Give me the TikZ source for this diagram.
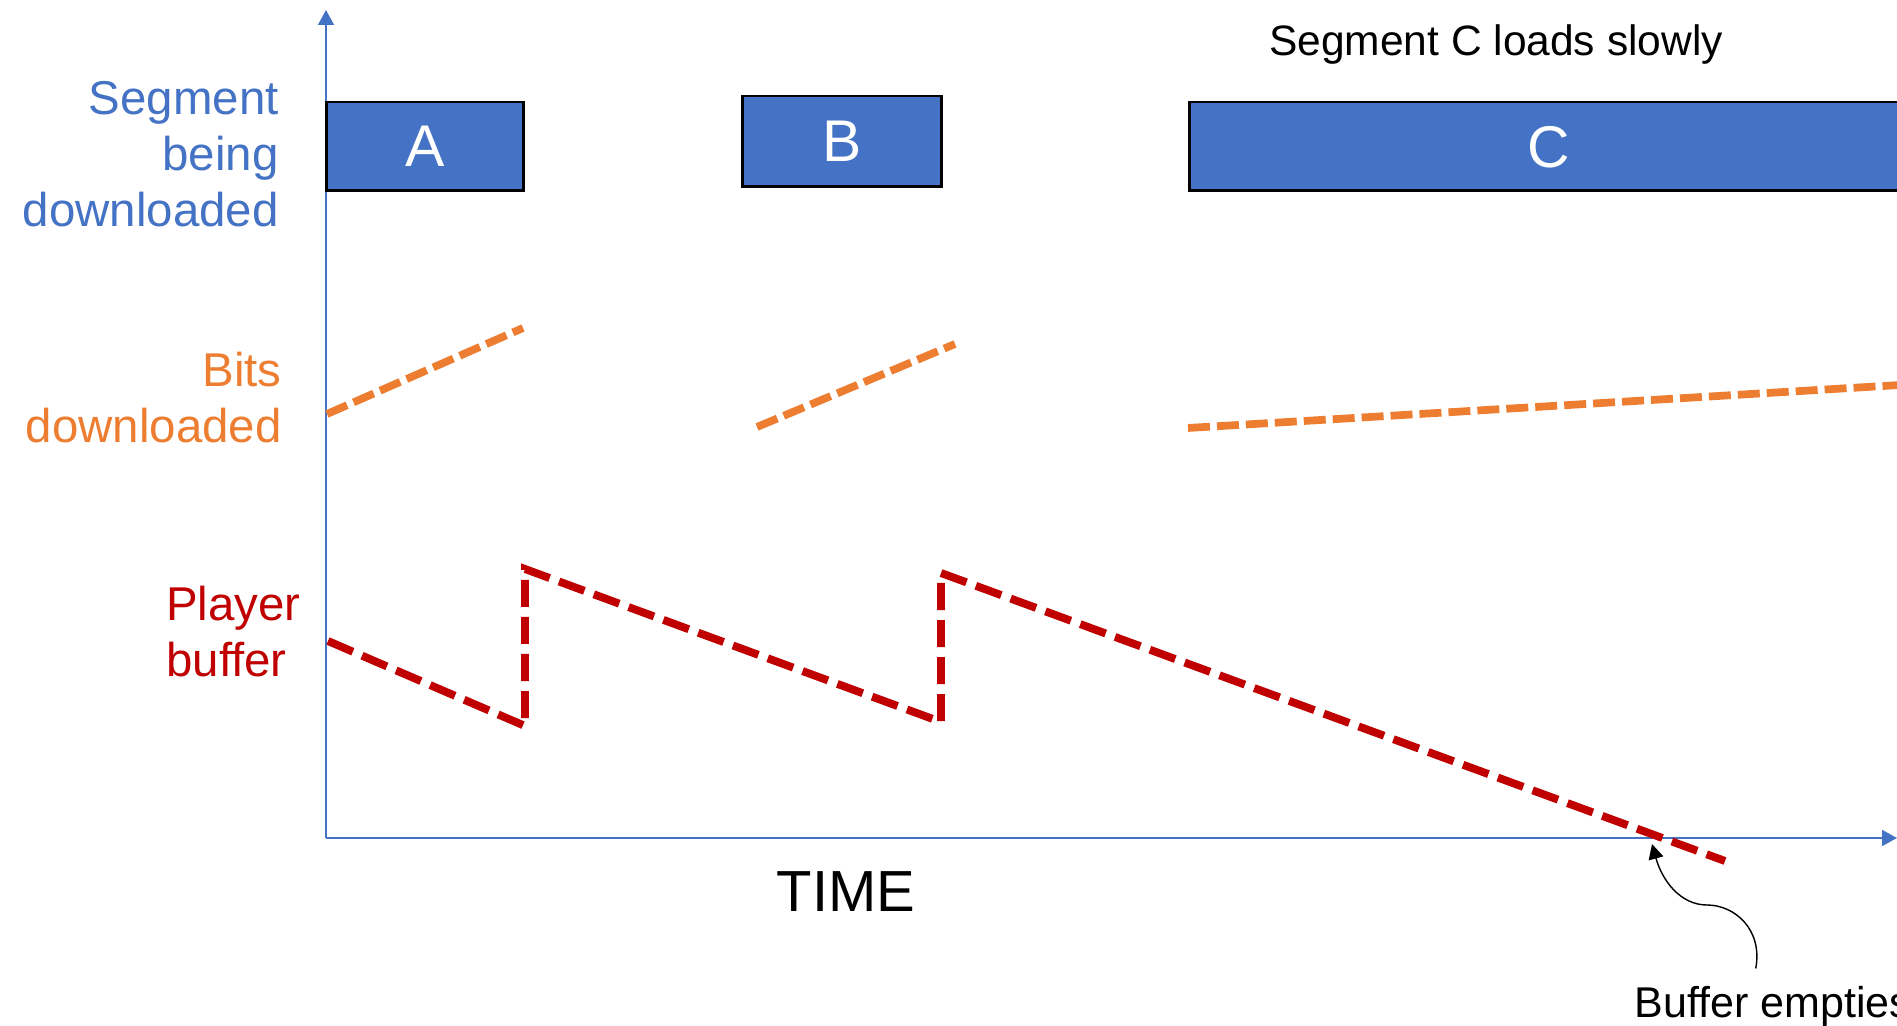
\documentclass[tikz,border=0pt]{standalone}
\usepackage{fontspec}
\setmainfont{Liberation Sans}
\usepackage{xcolor}
\usetikzlibrary{arrows.meta, positioning}

\definecolor{segblue}{HTML}{4472C4}
\definecolor{bitsorange}{HTML}{ED7D31}
\definecolor{bufred}{HTML}{C00000}

\begin{document}
\begin{tikzpicture}[
    x=0.02cm, y=-0.02cm,
    segbox/.style={rectangle, draw=black, line width=1.7pt, fill=segblue, text=white, inner sep=0pt, font=\fontsize{33.5}{40}\selectfont},
    sidelabel/.style={inner sep=0pt, font=\fontsize{27}{32}\selectfont},
    axis/.style={segblue, line width=1.1pt, -{Triangle[length=8.5pt, width=9pt]}},
    bitsline/.style={bitsorange, line width=4.4pt, dash pattern=on 12.5pt off 4pt},
    bufline/.style={bufred, line width=4.5pt, dash pattern=on 15.4pt off 5.7pt},
    note/.style={inner sep=0pt, font=\fontsize{24.2}{29}\selectfont},
]
\useasboundingbox[fill=white] (0,0) rectangle (1897,1026);

% Axes
\coordinate (origin) at (326,838);
\coordinate (ytop) at (326,10);
\coordinate (xend) at (1897,838);
\draw[axis] (origin) -- (ytop);
\draw[axis] (origin) -- (xend);

% Row labels
\node[sidelabel, segblue, align=right, anchor=base east] (seglabel) at (279,227) {Segment\\being\\downloaded};
\node[sidelabel, bitsorange, align=right, anchor=base east] (bitslabel) at (282,443) {Bits\\downloaded};
\node[sidelabel, bufred, align=left, anchor=base west] (buflabel) at (166,677) {Player\\buffer};

% Segments
\node[segbox, minimum width=3.96cm, minimum height=1.78cm] (segA) at (425,146.5) {A};
\node[segbox, minimum width=4.0cm, minimum height=1.82cm] (segB) at (842,141.5) {B};
\node[segbox, minimum width=14.5cm, minimum height=1.78cm, anchor=west] (segC) at (1188,146.5) {};
\node[text=white, inner sep=0pt, font=\fontsize{33.5}{40}\selectfont] (segCtext) at (1549,147) {C};
\node[note, anchor=base] (slow) at (1496,56) {Segment C loads slowly};

% Bits downloaded
\draw[bitsline] (327,414) -- (523,328);
\draw[bitsline] (757,427) -- (955,344);
\draw[bitsline] (1188,428) -- (1900,385);

% Player buffer
\draw[bufline] (328,641) -- (525,726) -- (525,569) -- (941,722) -- (941,573) -- (1725,861);

% Annotations
\node[inner sep=0pt, font=\fontsize{33}{40}\selectfont, anchor=base] (time) at (846,911) {TIME};
\node[inner sep=0pt, font=\fontsize{24.5}{30}\selectfont, anchor=base west] (empties) at (1634,1017) {Buffer empties};
\coordinate (emptypt) at (1652,844);
\draw[line width=0.8pt, -{Triangle[length=8.5pt, width=8.5pt]}] ([shift={(-17,-17)}]empties.north) .. controls (1763,930) and (1735,905) .. (1707,905) .. controls (1680,905) and (1662,880) .. (emptypt);

\end{tikzpicture}
\end{document}
